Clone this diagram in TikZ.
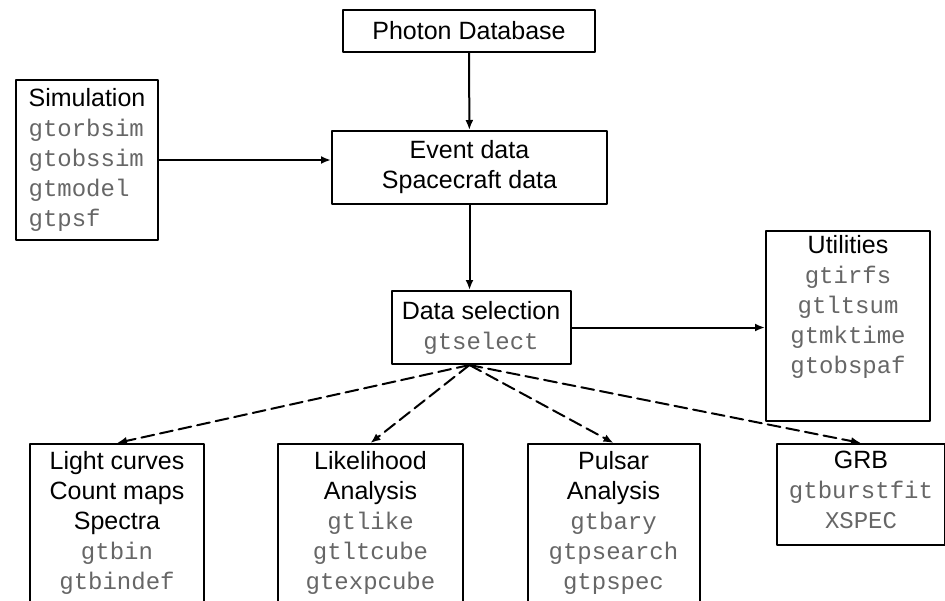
\documentclass[tikz,border=0pt]{standalone}
\usepackage{fontspec}
\setmainfont{Liberation Sans}
\setmonofont{Liberation Mono}
\usetikzlibrary{arrows.meta}

\newcommand{\gttool}[1]{{\color{black!60}\ttfamily\fontsize{24}{30}\selectfont #1}}

\tikzset{
  stagebox/.style={draw, line width=2pt, align=center, inner sep=4pt,
    font=\fontsize{25}{30}\selectfont},
  flow/.style={line width=2pt, -{Latex[length=10pt,width=8pt]}},
  branch/.style={flow, dash pattern=on 13pt off 6pt}
}

\begin{document}
\begin{tikzpicture}[line cap=round, line join=round, x=1pt, y=-1pt]

    \useasboundingbox (0,0) rectangle (945,600);

    \node[stagebox, minimum width=252, minimum height=42] (photon) at (469,31) {Photon Database};
    \node[stagebox, minimum width=142, minimum height=160, align=left] (sim) at (87,160)
        {Simulation\\ \gttool{gtorbsim}\\ \gttool{gtobssim}\\ \gttool{gtmodel}\\ \gttool{gtpsf}};
    \node[stagebox, minimum width=275, minimum height=73] (event) at (469.5,167.5)
        {Event data\\ Spacecraft data};
    \node[stagebox, minimum width=179, minimum height=73] (sel) at (481,327.5)
        {Data selection\\ \gttool{gtselect}};
    \node[stagebox, anchor=north, minimum width=164, text depth=44pt] (util) at (848,230)
        {Utilities\\ \gttool{gtirfs}\\ \gttool{gtltsum}\\ \gttool{gtmktime}\\ \gttool{gtobspaf}};

    \node[stagebox, anchor=north, minimum width=174, inner ysep=7pt, text depth=16pt] (lc) at (117,443)
        {Light curves\\ Count maps\\ Spectra\\ \gttool{gtbin}\\ \gttool{gtbindef}};
    \node[stagebox, anchor=north, minimum width=185, inner ysep=7pt, text depth=16pt] (like) at (370.5,443)
        {Likelihood\\ Analysis\\ \gttool{gtlike}\\ \gttool{gtltcube}\\ \gttool{gtexpcube}};
    \node[stagebox, anchor=north, minimum width=172, inner ysep=7pt, text depth=16pt] (pulsar) at (613.5,443)
        {Pulsar\\ Analysis\\ \gttool{gtbary}\\ \gttool{gtpsearch}\\ \gttool{gtpspec}};
    \node[stagebox, anchor=north, minimum width=168, inner ysep=7pt, text depth=10pt] (grb) at (861,443)
        {GRB\\ \gttool{gtburstfit}\\ \gttool{XSPEC}};

    \coordinate (fan) at (event.south |- sel.south);

    \draw[flow] (photon) -- (event);
    \draw[flow] (event.south) -- (event.south |- sel.north);
    \draw[flow] (sim.east) -- (sim.east -| event.west);
    \draw[flow] (sel.east) -- (sel.east -| util.west);

    \draw[branch] (fan) -- (lc.north);
    \draw[branch] (fan) -- (like.north);
    \draw[branch] (fan) -- (pulsar.north);
    \draw[branch] (fan) -- (grb.north);

\end{tikzpicture}
\end{document}
